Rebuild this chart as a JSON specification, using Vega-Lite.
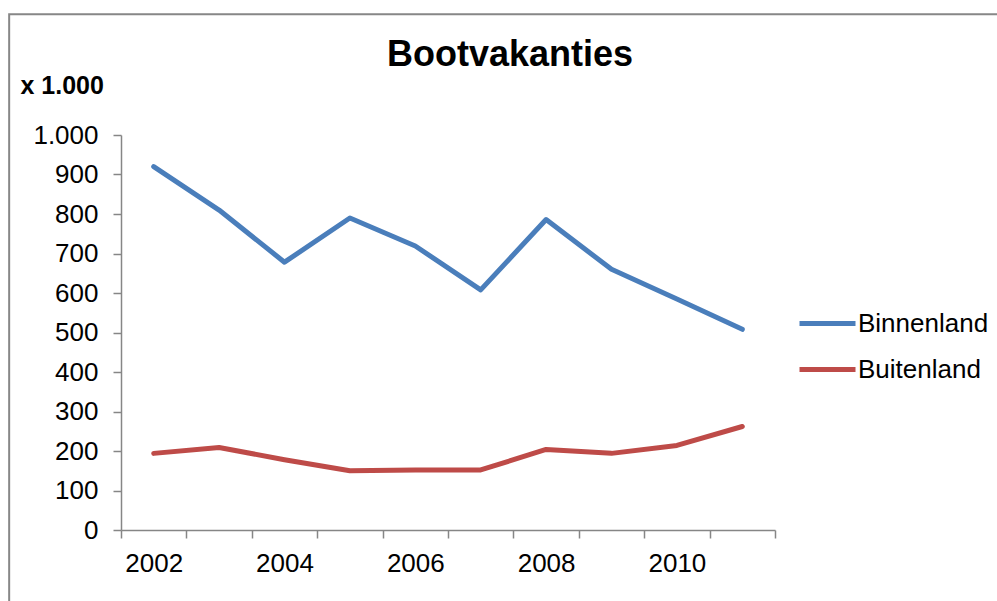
{
  "$schema": "https://vega.github.io/schema/vega-lite/v6.json",
  "width": 654,
  "height": 395,
  "autosize": {"type": "none"},
  "padding": {"left": 121, "top": 135, "right": 222, "bottom": 71},
  "background": "white",
  "title": {
    "text": "Bootvakanties",
    "font": "Liberation Sans",
    "fontSize": 36,
    "fontWeight": "bold",
    "color": "black",
    "anchor": "middle",
    "frame": "group",
    "dx": 62,
    "dy": 65
  },
  "config": {
    "font": "Liberation Sans",
    "view": {"stroke": null}
  },
  "data": {
    "values": [
      {"jaar": 2002, "reeks": "Binnenland", "waarde": 920},
      {"jaar": 2003, "reeks": "Binnenland", "waarde": 810},
      {"jaar": 2004, "reeks": "Binnenland", "waarde": 678},
      {"jaar": 2005, "reeks": "Binnenland", "waarde": 790},
      {"jaar": 2006, "reeks": "Binnenland", "waarde": 719},
      {"jaar": 2007, "reeks": "Binnenland", "waarde": 608},
      {"jaar": 2008, "reeks": "Binnenland", "waarde": 786},
      {"jaar": 2009, "reeks": "Binnenland", "waarde": 660},
      {"jaar": 2010, "reeks": "Binnenland", "waarde": 585},
      {"jaar": 2011, "reeks": "Binnenland", "waarde": 508},
      {"jaar": 2002, "reeks": "Buitenland", "waarde": 194},
      {"jaar": 2003, "reeks": "Buitenland", "waarde": 209},
      {"jaar": 2004, "reeks": "Buitenland", "waarde": 178},
      {"jaar": 2005, "reeks": "Buitenland", "waarde": 150},
      {"jaar": 2006, "reeks": "Buitenland", "waarde": 152},
      {"jaar": 2007, "reeks": "Buitenland", "waarde": 152},
      {"jaar": 2008, "reeks": "Buitenland", "waarde": 204},
      {"jaar": 2009, "reeks": "Buitenland", "waarde": 194},
      {"jaar": 2010, "reeks": "Buitenland", "waarde": 214},
      {"jaar": 2011, "reeks": "Buitenland", "waarde": 262}
    ]
  },
  "resolve": {"axis": {"x": "independent", "y": "independent"}},
  "layer": [
    {
      "description": "Chart-area frame, running past the right and bottom edges",
      "data": {"values": [{}]},
      "mark": {"type": "rect", "fill": null, "stroke": "#878787", "strokeWidth": 2, "clip": false},
      "encoding": {
        "x": {"datum": 1999.79, "type": "quantitative", "scale": {"domain": [2001.5, 2011.5], "nice": false, "zero": false}, "axis": null},
        "x2": {"datum": 2030},
        "y": {"datum": 1306, "type": "quantitative", "scale": {"domain": [0, 1000], "nice": false, "zero": true}, "axis": null},
        "y2": {"datum": -500}
      }
    },
    {
      "mark": {"type": "line", "strokeWidth": 5, "strokeCap": "round", "strokeJoin": "round"},
      "encoding": {
        "x": {
          "field": "jaar",
          "type": "quantitative",
          "scale": {"domain": [2001.5, 2011.5], "nice": false, "zero": false},
          "axis": {
            "title": null,
            "grid": false,
            "values": [2001.5, 2002, 2002.5, 2003.5, 2004, 2004.5, 2005.5, 2006, 2006.5, 2007.5, 2008, 2008.5, 2009.5, 2010, 2010.5, 2011.5],
            "domainColor": "#868686",
            "domainWidth": 1.5,
            "tickColor": "#868686",
            "tickWidth": 1.5,
            "tickSize": 8,
            "tickOpacity": {"condition": {"test": "datum.value % 1 != 0", "value": 1}, "value": 0},
            "labelExpr": "datum.value % 2 == 0 ? format(datum.value, 'd') : ''",
            "labelFont": "Liberation Sans",
            "labelFontSize": 26,
            "labelColor": "black",
            "labelPadding": 12,
            "labelOverlap": false,
            "labelFlush": false,
            "labelBound": false
          }
        },
        "y": {
          "field": "waarde",
          "type": "quantitative",
          "scale": {"domain": [0, 1000], "nice": false, "zero": true},
          "axis": {
            "values": [0, 100, 200, 300, 400, 500, 600, 700, 800, 900, 1000],
            "title": "x 1.000",
            "titleAngle": 0,
            "titleAlign": "left",
            "titleBaseline": "alphabetic",
            "titleX": -101,
            "titleY": -42,
            "titleFont": "Liberation Sans",
            "titleFontSize": 25,
            "titleFontWeight": "bold",
            "titleColor": "black",
            "labelExpr": "replace(format(datum.value, ','), ',', '.')",
            "labelFont": "Liberation Sans",
            "labelFontSize": 26,
            "labelColor": "black",
            "labelPadding": 15,
            "tickSize": 8,
            "tickColor": "#868686",
            "tickWidth": 1.5,
            "domainColor": "#868686",
            "domainWidth": 1.5,
            "gridColor": "#868686",
            "gridWidth": 1.5
          }
        },
        "color": {
          "field": "reeks",
          "type": "nominal",
          "scale": {"domain": ["Binnenland", "Buitenland"], "range": ["#4A7EBB", "#BE4B48"]},
          "legend": {
            "title": null,
            "orient": "none",
            "legendX": 676,
            "legendY": 158,
            "padding": 0,
            "symbolType": "stroke",
            "symbolSize": 3136,
            "symbolStrokeWidth": 5,
            "labelFont": "Liberation Sans",
            "labelFontSize": 26,
            "labelColor": "black",
            "labelOffset": 0,
            "rowPadding": 2
          }
        }
      }
    }
  ]
}
